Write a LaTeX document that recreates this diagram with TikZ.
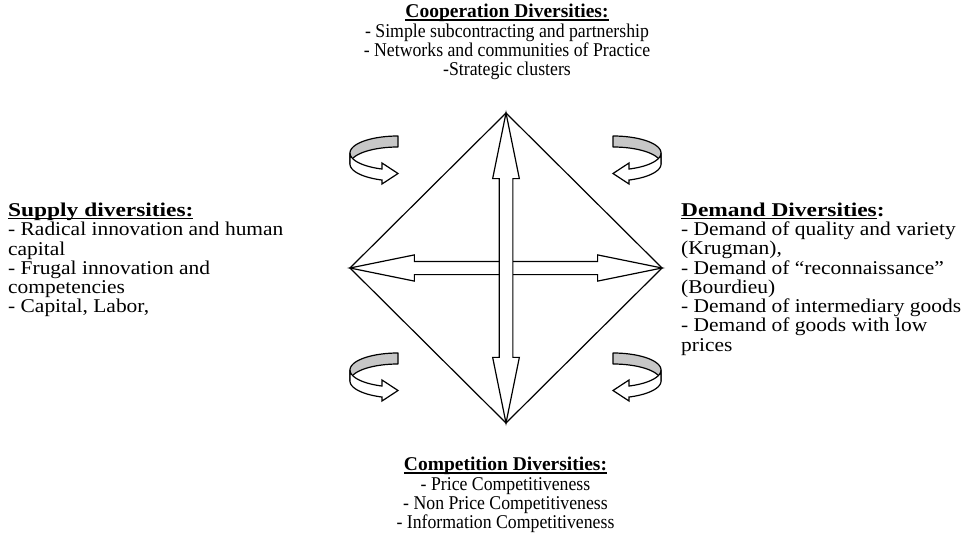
\documentclass[tikz,border=0pt]{standalone}
\usepackage{fontspec}
\setmainfont{Liberation Serif}
\newfontfamily\sidefont{Liberation Serif}[FakeStretch=1.1]
\newfontfamily\sidehead{Liberation Serif}[FakeStretch=1.2]
\newfontfamily\midfont{Liberation Serif}[FakeStretch=0.91]
\usetikzlibrary{shapes.arrows}

% bold heading with a heavy underline
\newcommand{\headul}[1]{\setbox0=\hbox{\textbf{#1}}\rlap{\rule[-3pt]{\wd0}{1.6pt}}\box0}

% ring arrow drawn round the local origin (centre of its ellipse)
\newcommand{\ringarrow}{%
  \filldraw[fill=black!22, line width=1.2pt, line join=round]
    plot[domain=90:180, variable=\t, samples=30] ({48*cos(\t)}, {-17*sin(\t)})
    -- plot[domain=180:90, variable=\t, samples=30] ({48*cos(\t)}, {11-17*sin(\t)}) -- cycle;
  \filldraw[fill=white, line width=1.2pt, line join=miter]
    plot[domain=180:250.5, variable=\t, samples=30] ({48*cos(\t)}, {-17*sin(\t)})
    -- (-16,10) -- (0,20.5) -- (-16,31)
    -- plot[domain=250.5:180, variable=\t, samples=30] ({48*cos(\t)}, {11-17*sin(\t)}) -- cycle;
}

\begin{document}
\begin{tikzpicture}[x=1pt, y=-1pt,
    txt/.style={inner sep=0pt, font=\fontsize{19.5}{19.3}\selectfont},
    bigarrow/.style={double arrow, draw, fill=white, line width=1.2pt, inner sep=0pt,
      double arrow head extend=6.5pt, double arrow tip angle=23}]

    \useasboundingbox (0,0) rectangle (965,551);

    % Vertices of the diamond and its centre
    \coordinate (O) at (506,268);
    \coordinate (T) at (506,113);
    \coordinate (R) at (662,268);
    \coordinate (B) at (506,423);
    \coordinate (L) at (350,268);

    % Diamond
    \draw[line width=1.2pt, line join=miter] (T) -- (R) -- (B) -- (L) -- cycle;

    % Double arrows between opposite vertices
    \node[bigarrow, minimum height=312pt] (harrow) at (O) {\rule{0pt}{12pt}};
    \node[bigarrow, minimum height=310pt, rotate=90] (varrow) at (O) {\rule{0pt}{12.5pt}};

    % Ring arrows in the four corners
    \begin{scope}[shift={(398,153)}] \ringarrow \end{scope}
    \begin{scope}[shift={(398,370)}] \ringarrow \end{scope}
    \begin{scope}[shift={(613,153)}, xscale=-1] \ringarrow \end{scope}
    \begin{scope}[shift={(613,370)}, xscale=-1] \ringarrow \end{scope}

    % Text blocks
    \node[txt, align=center] (coop) at (507,42)
      {\headul{Cooperation Diversities:}\\
       \midfont - Simple subcontracting and partnership\\
       \midfont - Networks and communities of Practice\\
       \midfont -Strategic clusters};

    \node[txt, align=left, anchor=west] (supply) at (8,260)
      {\sidehead\headul{Supply diversities:}\\
       \sidefont - Radical innovation and human\\
       \sidefont capital\\
       \sidefont - Frugal innovation and\\
       \sidefont competencies\\
       \sidefont - Capital, Labor,};

    \node[txt, align=left, anchor=west] (demand) at (681,279)
      {\sidehead\headul{Demand Diversities}\textbf{:}\\
       \sidefont - Demand of quality and variety\\
       \sidefont (Krugman),\\
       \sidefont - Demand of “reconnaissance”\\
       \sidefont (Bourdieu)\\
       \sidefont - Demand of intermediary goods\\
       \sidefont - Demand of goods with low\\
       \sidefont prices};

    \node[txt, align=center] (comp) at (505.5,495)
      {\headul{Competition Diversities:}\\
       \midfont - Price Competitiveness\\
       \midfont - Non Price Competitiveness\\
       \midfont - Information Competitiveness};

\end{tikzpicture}
\end{document}
